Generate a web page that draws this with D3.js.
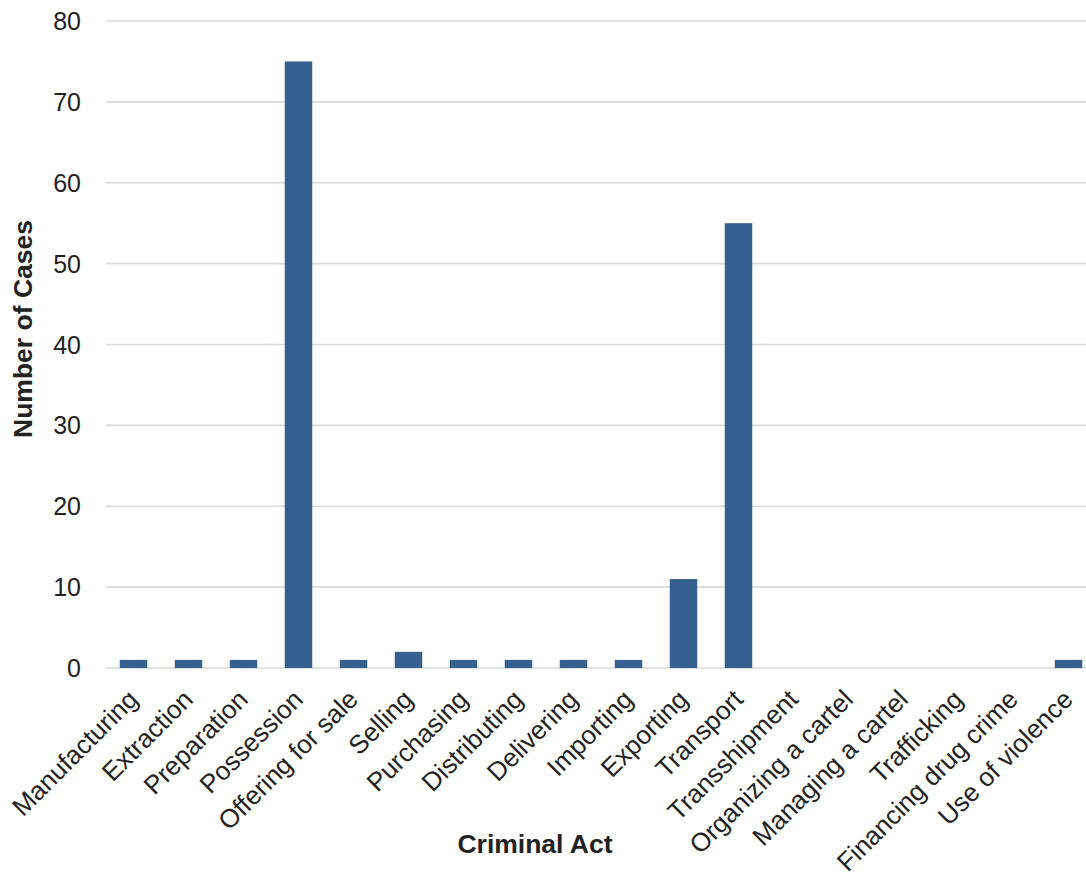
<!DOCTYPE html>
<html>
<head>
<meta charset="utf-8">
<script src="https://cdn.jsdelivr.net/npm/d3@7"></script>
<style>
  html, body { margin: 0; padding: 0; background: #fff; }
  svg { display: block; font-family: "Liberation Sans", Arial, sans-serif; }
</style>
</head>
<body>
<svg id="chart" width="1086" height="875"></svg>
<script>
// Criminal acts and the number of cases for each
const categories = [
  "Manufacturing", "Extraction", "Preparation", "Possession", "Offering for sale",
  "Selling", "Purchasing", "Distributing", "Delivering", "Importing", "Exporting",
  "Transport", "Transshipment", "Organizing a cartel", "Managing a cartel",
  "Trafficking", "Financing drug crime", "Use of violence"
];
const cases = [1, 1, 1, 75, 1, 2, 1, 1, 1, 1, 11, 55, 0, 0, 0, 0, 0, 1];
const yTicks = [0, 10, 20, 30, 40, 50, 60, 70, 80];

const svg = d3.select("#chart");
const plotLeft = 106, plotRight = 1096, plotTop = 21, plotBottom = 668;

const x = d3.scaleBand().domain(categories).range([plotLeft, plotRight]).paddingInner(0.5).paddingOuter(0.25);
const y = d3.scaleLinear().domain([0, 80]).range([plotBottom, plotTop]);

// Horizontal gridlines
svg.append("g")
  .selectAll("line")
  .data(yTicks)
  .join("line")
  .attr("x1", plotLeft).attr("x2", 1086)
  .attr("y1", d => y(d)).attr("y2", d => y(d))
  .attr("stroke", "#d9d9d9")
  .attr("stroke-width", 1.6);

// Y tick labels
svg.append("g")
  .selectAll("text")
  .data(yTicks)
  .join("text")
  .attr("x", 81)
  .attr("y", d => y(d))
  .attr("dy", "0.36em")
  .attr("text-anchor", "end")
  .attr("font-size", 25)
  .attr("fill", "#222")
  .text(d => d);

// Bars
svg.append("g")
  .selectAll("rect")
  .data(categories.map((c, i) => ({ c, v: cases[i] })))
  .join("rect")
  .attr("x", d => x(d.c))
  .attr("y", d => y(d.v))
  .attr("width", x.bandwidth())
  .attr("height", d => y(0) - y(d.v))
  .attr("fill", "#36608f");

// Rotated category labels
svg.append("g")
  .selectAll("text")
  .data(categories)
  .join("text")
  .attr("transform", d => `translate(${x(d) + x.bandwidth() / 2 + 6},${plotBottom + 33}) rotate(-45)`)
  .attr("text-anchor", "end")
  .attr("font-size", 26)
  .attr("fill", "#222")
  .text(d => d);

// Axis titles
svg.append("text")
  .attr("transform", `translate(32,329) rotate(-90)`)
  .attr("text-anchor", "middle")
  .attr("font-size", 26.5)
  .attr("font-weight", "bold")
  .attr("fill", "#222")
  .text("Number of Cases");

svg.append("text")
  .attr("x", 535)
  .attr("y", 853)
  .attr("text-anchor", "middle")
  .attr("font-size", 26.5)
  .attr("font-weight", "bold")
  .attr("fill", "#222")
  .text("Criminal Act");
</script>
</body>
</html>
